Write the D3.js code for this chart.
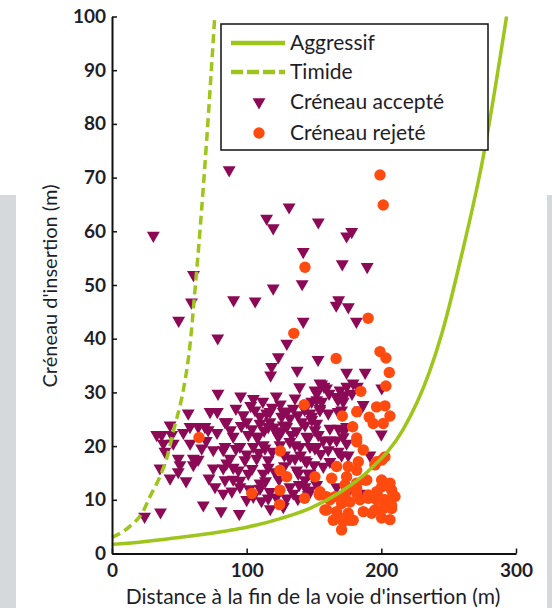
<!DOCTYPE html>
<html>
<head>
<meta charset="utf-8">
<script src="https://cdn.jsdelivr.net/npm/d3@7/dist/d3.min.js"></script>
<style>
    body { margin: 0; background: #fff; }
    svg { display: block; }
</style>
</head>
<body>
<div id="chart"></div>
<script>
// tick values
const xTicks = [0, 100, 200, 300];
const yTicks = [0, 10, 20, 30, 40, 50, 60, 70, 80, 90, 100];

const legendLabels = ['Aggressif', 'Timide', 'Créneau accepté', 'Créneau rejeté'];

// model curves [distance, gap]
const aggressifCurve = [[0,1.7],[20,2.1],[50,3],[87,4.3],[100,4.9],[125,6.5],[147,8.4],[170,11.5],[191,15.5],[216,23],[236,34],[245,41],[260,56],[275,73],[293,100]];
const timideCurve = [[0,3],[13,5],[23,7.8],[28,10.5],[35,14],[40.6,17.7],[46.8,24],[50.5,27.5],[53,30.5],[58,39],[61.6,49],[65.3,60],[70.3,77],[76.3,100]];

// accepted gaps (triangles)
const acceptedPoints = [
    [87,71.4],[131.5,64.5],[153.2,61.7],[114.8,62.4],[119.7,60.6],[178,59.9],[174.2,59.1],[30.7,59.2],[142,56.2],[171,53.9],
    [189.5,53.4],[60.5,51.9],[141.2,50.2],[119.7,49.4],[59,46.8],[90.3,47.2],[106.3,47],[168.3,47.2],[166.5,46.2],[175.5,45.9],
    [49.5,43.4],[181.5,43.2],[142,43.2],[78.5,40.1],[129.8,39.1],[123.5,36.6],[118.5,34.8],[117.8,33.2],[137.5,34.1],[153,36.1],
    [174.2,33.7],[188,33.7],
    [155.7,31.5],[179,31.7],[78.7,29.8],[95.5,29.3],[105,28.8],[122,29.3],[139.3,31],[152.1,29.8],[157.4,31.1],[161.2,29.8],
    [167.8,28.6],[174.3,31.1],[178.2,29.8],[182.2,31.1],[200.3,30.8],[135.9,28.9],[150.7,30.4],[169.3,30.4],[173,29.5],[152,28.6],
    [148.3,28.3],[155.7,28.3],[166.8,29.2],[171.7,28.3],[154.4,27],[170.5,26.7],[184.1,26.7],[186.5,27.7],[159.3,30.8],[154.4,31.7],
    [56.6,26.1],[72.8,26.4],[78.2,26.4],[97.5,25.8],[109.9,25.5],[114.8,26.1],[126,25.5],[132.1,25.2],[148.3,25.5],[147,26.1],
    [148.3,24.9],[106.2,26.7],[117.3,26.4],[127.2,26.4],[134.6,27],[154.4,26.7],[160.6,26.1],[168,26.4],
    [83.9,24.5],[43.1,23.9],[57.9,23.6],[64.1,23.6],[69,23.6],[71.4,23],[85.2,24.5],[109.9,24.2],[117.3,24.5],[129.7,23.6],
    [143.3,23.9],[116,23.6],[127.2,23.9],[140.8,24.5],[152,24.2],[161.8,23.3],[168,23.3],[174.2,23.6],[150.7,23],[171.7,23],
    [36.9,22.1],[44.3,22.1],[33.2,22.1],[90,21.8],[101.2,22.1],[108.6,21.8],[122.3,22.4],[133.4,22.1],[145.7,21.5],[153.2,22.1],
    [107.4,21.8],[123.5,21.8],[132.1,20.8],[144.5,21.8],[156.9,21.1],[166.8,21.1],[174.2,20.5],[161.8,21.1],[171.7,21.7],[200,22.2],
    [38.1,20.5],[45.5,20.5],[39.3,19],[66.6,19.6],[75.2,19.3],[82.6,19.3],[83.9,19.9],[95,19.9],[104.9,19.9],[112.3,20.2],
    [135.9,20.2],[147,19.9],[113.6,19.6],[124.7,20.2],[139.6,19.9],[150.7,19.6],[160.6,19.3],[168,19],[152,19.9],
    [49.2,17.7],[60.4,17.7],[50.5,16.5],[60.4,16.5],[35.6,15.9],[75.2,15.9],[82.6,15.9],[85.2,16.8],[49.2,15.2],[43.1,14],
    [83.9,13.7],[87.6,17.7],[98.7,17.4],[107.4,17.7],[116,17.4],[135.9,17.7],[144.5,17.1],[132.1,17.7],[143.3,17.4],[161.8,17.1],
    [175.4,18.3],[170.5,18.3],[191.5,18.3],[156.9,16.2],[93.8,15.5],[101.2,14.9],[112.3,14.9],[138.3,14.9],[143.3,13.7],[121,15.2],
    [137.1,15.5],[145.7,14.9],[147,14.9],
    [76.5,12.4],[82.6,11.2],[95,12.4],[109.9,12.1],[117.3,11.5],[134.6,11.2],[147,11.8],[109.9,13.1],[132.1,12.4],[143.3,12.4],
    [152,12.8],[166.8,12.4],[104.9,10.6],[116,10.3],[129.7,10.3],[145.7,10.9],[176,11.8],[184,11.2],
    [67.8,9],[81,7.9],[94.5,7.4],[117.5,8.3],[127.2,8.7],[36,7.7],[24.2,6.9],
    // denser core of the cloud
    [92,27],[100,24.5],[103,27.5],[112,28.3],[119,27.2],[125,27.8],[130,26.5],[138,25.8],[143,26.8],[88,23],
    [96,23.8],[104,23.2],[113,22.9],[120,23.5],[126,22.8],[137,22.8],[92,19.5],[100,18.5],[109,18.8],[119,19],
    [128,18.3],[140,18.3],[155,18.6],[90,16],[104,15.8],[116,16],[128,16.3],[150,16.5],[95,13.6],[102,12],
    [114,13.5],[124,13.8],[139,12.8],[89,11.6],[100,10],[122,10.5],[138,10.2],[111,9.8],[58,20.5],[53,22.5],
    [70,21],[78,22.5],[64,17.5],[72,14],[55,13.5],[90,13.8]
];

// rejected gaps (circles)
const rejectedPoints = [
    [199,70.5],[201.4,64.9],[143.3,53.3],[190.2,43.8],[135,41],[166.4,36.3],[199,37.6],[203.4,36.4],[205.9,33.7],[203.4,31.2],
    [184.8,30.2],[142.7,27.7],[64.6,21.6],
    [196.5,27.3],[202.7,27.5],[206.4,25.6],[201.4,24.2],[194,24.2],[191,25.4],
    [171,25.6],[181.7,26.4],[178.7,23.6],[181.7,21.5],
    [125,19.1],[124.7,15.5],[129.7,14.3],[150.7,14.3],[103.8,11.2],[124.7,11.8],[124.5,9.1],[143,10.3],[154,10.9],
    [181.7,20.8],[186.6,19.3],[196.5,17.1],[200.4,17.4],[202.7,18],[182.9,17.1],[175.4,16.2],[166.8,16.2],[195.2,16.5],
    [163.1,14],[173,12.8],[181.7,13.1],[189.2,13.7],[200.2,13.7],[206.4,13.1],[208.8,10.9],[207.6,8.4],[206.4,6.3],[181.7,15.5],
    [174.2,14.3],[187.8,13.7],[174.2,12.1],[181.7,12.1],[200.2,12.4],[196.5,11.5],[207.6,11.8],[210.1,10.6],
    [154.4,11.5],[159.3,10.6],[165.6,10.6],[173,10.9],[181.7,11.2],[190.3,10.9],[197.7,10.6],[161.8,10],[170.5,9.3],[176.7,9.6],
    [184.1,10],[190.3,10.3],[196.5,10],[202.7,10],
    [159.4,8.1],[166.8,7.8],[175.4,7.5],[186.6,7.8],[195.2,8.1],[201.4,8.4],[192.8,7.5],[207.6,9],
    [164.3,6.2],[171.7,5.9],[179.1,6.2],[170.5,4.4],[169.3,6.6],[176.7,6.2],[200.2,6.6],[158.1,8.1]
];

const W = 552, H = 608;
const green = '#9ec51b', purple = '#8c0a55', orange = '#ff4b0f', ink = '#1e1e28';
const fontFamily = 'Lato, "Open Sans", sans-serif';

/**
 * Draw the whole figure
 */
let draw = () => {
    const svg = d3.select('#chart').append('svg')
        .attr('width', W)
        .attr('height', H);

    // grey page with the white sheet on top
    svg.append('rect').attr('width', W).attr('height', H).attr('fill', '#d5d9dc');
    svg.append('rect').attr('x', 0).attr('y', 0).attr('width', W).attr('height', 195).attr('fill', '#fff');
    svg.append('rect').attr('x', 16).attr('y', 0).attr('width', 531).attr('height', H).attr('fill', '#fff');

    const x = d3.scaleLinear().domain([0, 300]).range([112, 516]);
    const y = d3.scaleLinear().domain([0, 100]).range([553.5, 16.5]);

    // points
    const tri = d3.symbol().type(d3.symbolTriangle).size(72);
    svg.append('g')
        .selectAll('path')
        .data(acceptedPoints)
        .join('path')
        .attr('d', tri)
        .attr('transform', d => `translate(${x(d[0])},${y(d[1])}) rotate(180)`)
        .attr('fill', purple);

    svg.append('g')
        .selectAll('circle')
        .data(rejectedPoints)
        .join('circle')
        .attr('cx', d => x(d[0]))
        .attr('cy', d => y(d[1]))
        .attr('r', 5.7)
        .attr('fill', orange);

    // curves
    const line = d3.line()
        .x(d => x(d[0]))
        .y(d => y(d[1]))
        .curve(d3.curveMonotoneX);

    svg.append('path')
        .datum(aggressifCurve)
        .attr('d', line)
        .attr('fill', 'none')
        .attr('stroke', green)
        .attr('stroke-width', 3.5);

    svg.append('path')
        .datum(timideCurve)
        .attr('d', line)
        .attr('fill', 'none')
        .attr('stroke', green)
        .attr('stroke-width', 3.5)
        .attr('stroke-dasharray', '9,5');

    // axes
    const xAxis = g => g
        .attr('transform', `translate(0,${y(0)})`)
        .call(d3.axisBottom(x).tickValues(xTicks).tickSizeInner(-5).tickSizeOuter(0).tickPadding(10));
    const yAxis = g => g
        .attr('transform', `translate(${x(0)},0)`)
        .call(d3.axisLeft(y).tickValues(yTicks).tickSizeInner(-5).tickSizeOuter(0).tickPadding(6));

    [svg.append('g').call(xAxis), svg.append('g').call(yAxis)].forEach(g => {
        g.select('.domain').attr('stroke', '#111').attr('stroke-width', 2);
        g.selectAll('.tick line').attr('stroke', '#111').attr('stroke-width', 1.5);
        g.selectAll('.tick text')
            .attr('fill', ink)
            .style('font-family', fontFamily)
            .style('font-size', '19px')
            .style('font-weight', 'bold');
    });

    // axis titles
    svg.append('text')
        .attr('x', 313)
        .attr('y', 604)
        .attr('text-anchor', 'middle')
        .attr('fill', ink)
        .style('font-family', fontFamily)
        .style('font-size', '21px')
        .text("Distance à la fin de la voie d'insertion (m)");

    svg.append('text')
        .attr('transform', 'translate(57,286) rotate(-90)')
        .attr('text-anchor', 'middle')
        .attr('fill', ink)
        .style('font-family', fontFamily)
        .style('font-size', '20px')
        .text("Créneau d'insertion (m)");

    // legend
    const legend = svg.append('g');
    legend.append('rect')
        .attr('x', 221).attr('y', 24)
        .attr('width', 267).attr('height', 126)
        .attr('fill', '#fff')
        .attr('stroke', '#111')
        .attr('stroke-width', 1.5);

    const rowY = [43, 72, 102, 133];
    legend.append('line')
        .attr('x1', 231).attr('x2', 285).attr('y1', rowY[0]).attr('y2', rowY[0])
        .attr('stroke', green).attr('stroke-width', 4.5);
    legend.append('line')
        .attr('x1', 231).attr('x2', 285).attr('y1', rowY[1]).attr('y2', rowY[1])
        .attr('stroke', green).attr('stroke-width', 4.5)
        .attr('stroke-dasharray', '12,4');
    legend.append('path')
        .attr('d', tri)
        .attr('transform', `translate(259,${rowY[2]}) rotate(180)`)
        .attr('fill', purple);
    legend.append('circle')
        .attr('cx', 259).attr('cy', rowY[3]).attr('r', 5.7)
        .attr('fill', orange);

    legend.selectAll('text')
        .data(legendLabels)
        .join('text')
        .attr('x', 290)
        .attr('y', (d, i) => rowY[i] + 7)
        .attr('fill', ink)
        .style('font-family', fontFamily)
        .style('font-size', '21px')
        .text(d => d);
}

draw();
</script>
</body>
</html>
